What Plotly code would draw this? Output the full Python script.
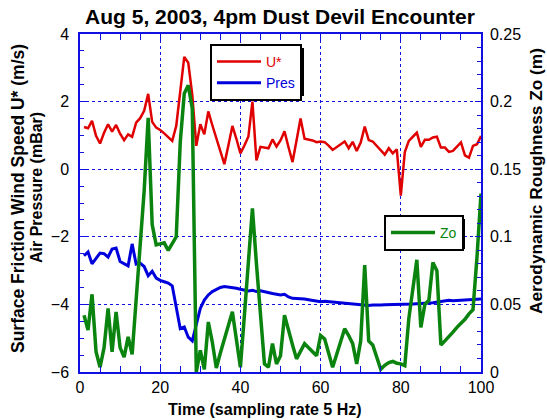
import plotly.graph_objects as go

time = list(range(1, 101))

ustar = [1.25, 1.21, 1.43, 0.99, 0.76, 1.08, 1.33, 1.11, 1.31, 1.05,
         0.86, 1.03, 0.96, 1.38, 1.51, 1.73, 2.23, 1.40, 1.23, 1.16,
         1.06, 0.94, 0.84, 1.28, 2.30, 3.32, 3.15, 2.20, 0.69, 1.33,
         1.03, 1.71, 1.30, 0.90, 0.50, 0.15, 0.70, 1.28, 0.90, 0.47,
         0.70, 0.97, 2.00, 0.26, 0.66, 0.64, 0.62, 0.88, 0.67, 0.85,
         1.12, 0.65, 0.21, 0.85, 1.50, 0.90, 0.88, 0.85, 0.80, 0.82,
         0.80, 0.70, 0.57, 0.65, 0.75, 0.82, 0.62, 0.81, 0.54, 0.79,
         1.26, 0.86, 0.82, 0.70, 0.56, 0.43, 0.62, 0.47, 0.59, -0.78,
         0.51, 0.84, 0.96, 1.08, 0.66, 0.87, 0.87, 0.94, 0.96, 0.64,
         0.64, 0.51, 0.54, 0.65, 0.79, 0.41, 0.34, 0.69, 0.74, 0.98]

pres = [-2.56, -2.45, -2.80, -2.63, -2.48, -2.50, -2.60, -2.36, -2.33, -2.73,
        -2.80, -2.86, -2.21, -2.81, -2.78, -2.88, -3.15, -3.02, -3.22, -3.29,
        -3.33, -3.37, -3.45, -4.05, -4.72, -4.67, -4.97, -5.08, -4.57, -4.12,
        -3.87, -3.72, -3.62, -3.55, -3.50, -3.47, -3.48, -3.50, -3.52, -3.55,
        -3.58, -3.60, -3.58, -3.62, -3.60, -3.63, -3.67, -3.68, -3.70, -3.72,
        -3.70, -3.78, -3.82, -3.82, -3.82, -3.84, -3.86, -3.88, -3.90, -3.92,
        -3.91, -3.92, -3.93, -3.95, -3.96, -3.97, -3.98, -3.99, -4.00, -4.02,
        -4.02, -4.03, -4.02, -4.03, -4.02, -4.01, -4.01, -4.01, -4.00, -4.01,
        -4.00, -4.00, -3.99, -3.98, -3.98, -3.97, -3.96, -3.95, -3.93, -3.90,
        -3.90, -3.88, -3.89, -3.88, -3.87, -3.86, -3.86, -3.85, -3.84, -3.84]

zo = [0.042, 0.031, 0.0575, 0.015, 0.0035, 0.018, 0.047, 0.015, 0.0445, 0.018,
      0.011, 0.026, 0.013, 0.056, 0.095, 0.134, 0.188, 0.109, 0.094, 0.095,
      0.0955, 0.090, 0.0955, 0.100, 0.170, 0.206, 0.212, 0.195, 0.000, 0.016,
      0.002, 0.037, 0.022, 0.003, 0.014, 0.024, 0.034, 0.0445, 0.024, 0.0035,
      0.042, 0.081, 0.121, 0.080, 0.040, 0.006, 0.0035, 0.021, 0.006, 0.012,
      0.042, 0.030, 0.020, 0.0097, 0.015, 0.021, 0.018, 0.015, 0.012, 0.027,
      0.0245, 0.014, 0.0035, 0.013, 0.022, 0.032, 0.027, 0.021, 0.006, 0.023,
      0.079, 0.023, 0.020, 0.011, 0.002, 0.005, 0.007, 0.0078, 0.0065, 0.006,
      0.0047, 0.0395, 0.060, 0.083, 0.033, 0.050, 0.053, 0.081, 0.075, 0.020,
      0.023, 0.026, 0.0295, 0.033, 0.036, 0.039, 0.043, 0.046, 0.085, 0.132]

x_ticks = [0, 20, 40, 60, 80, 100]
y_ticks = [-6, -4, -2, 0, 2, 4]
y2_ticks = [0, 0.05, 0.1, 0.15, 0.2, 0.25]
y2_labels = ["0", "0.05", "0.1", "0.15", "0.2", "0.25"]

RED = "#e00000"
BLUE = "#0000dd"
GREEN = "#0a840f"
AX = "#1010e0"
FONT = "Liberation Sans, Arial, sans-serif"

fig = go.Figure()
fig.add_trace(go.Scatter(x=time, y=ustar, mode="lines", name=f"<span style='color:{RED}'>U*</span>",
                         line=dict(color=RED, width=2.5), legend="legend"))
fig.add_trace(go.Scatter(x=time, y=pres, mode="lines", name=f"<span style='color:{BLUE}'>Pres</span>",
                         line=dict(color=BLUE, width=3), legend="legend"))
fig.add_trace(go.Scatter(x=time, y=zo, mode="lines", name=f"<span style='color:{GREEN}'>Zo</span>",
                         line=dict(color=GREEN, width=3.5), yaxis="y2", legend="legend2"))

L, R, T, B = 80, 481, 34, 372
W, H = 547, 420

def px(xp):
    return (xp - L) / (R - L)

def py(yp):
    return (B - yp) / (B - T)

fig.update_layout(
    width=W, height=H,
    margin=dict(l=L, r=W - R, t=T, b=H - B, pad=0),
    paper_bgcolor="white", plot_bgcolor="white",
    font=dict(family=FONT, size=16, color="black"),
    title=dict(text="<b>Aug 5, 2003, 4pm Dust Devil Encounter</b>", x=px(280), xanchor="center",
               xref="paper", y=1 - 17 / H, yanchor="middle", font=dict(size=21, family=FONT)),
    xaxis=dict(range=[0, 100], tickvals=x_ticks, showline=True, linecolor=AX, linewidth=1.5,
               mirror="allticks", ticks="inside", ticklen=6, tickcolor=AX, tickwidth=1,
               showgrid=True, gridcolor=AX, griddash="dot", gridwidth=1, zeroline=False,
               minor=dict(dtick=5, ticks="inside", ticklen=4, tickcolor=AX, showgrid=False),
               tickfont=dict(size=16), ticklabelstandoff=0),
    yaxis=dict(range=[-6, 4], tickvals=y_ticks, showline=True, linecolor=AX, linewidth=1.5,
               ticks="inside", ticklen=6, tickcolor=AX, tickwidth=1,
               showgrid=True, gridcolor=AX, griddash="dot", gridwidth=1, zeroline=False,
               minor=dict(dtick=0.5, ticks="inside", ticklen=4, tickcolor=AX, showgrid=False),
               tickfont=dict(size=16), ticklabelstandoff=6),
    yaxis2=dict(range=[0, 0.25], tickvals=y2_ticks, ticktext=y2_labels, overlaying="y", side="right",
                showline=True, linecolor=AX, linewidth=1.5, ticks="inside", ticklen=6, tickcolor=AX,
                showgrid=False, zeroline=False,
                minor=dict(dtick=0.01, ticks="inside", ticklen=4, tickcolor=AX, showgrid=False),
                tickfont=dict(size=16), ticklabelstandoff=4),
    legend=dict(x=px(210), y=py(44), xanchor="left", yanchor="top", bgcolor="white",
                bordercolor="black", borderwidth=2, font=dict(size=14), itemwidth=44,
                tracegroupgap=0),
    legend2=dict(x=px(384), y=py(215), xanchor="left", yanchor="top", bgcolor="white",
                 bordercolor="black", borderwidth=2, font=dict(size=14), itemwidth=44),
    showlegend=True,
)

# legend drop shadows
fig.add_shape(type="rect", xref="paper", yref="paper", x0=px(214), x1=px(304), y0=py(48), y1=py(96),
              fillcolor="black", line=dict(width=0), layer="above")
fig.add_shape(type="rect", xref="paper", yref="paper", x0=px(388), x1=px(465), y0=py(219), y1=py(249),
              fillcolor="black", line=dict(width=0), layer="above")

ann = dict(xref="paper", yref="paper", showarrow=False, xanchor="center", yanchor="middle")
fig.add_annotation(text="<b>Surface Friction Wind Speed U* (m/s)</b>", x=px(18), y=py(199),
                   textangle=-90, font=dict(size=17.5), **ann)
fig.add_annotation(text="<b>Air Pressure (mBar)</b>", x=px(36), y=py(188),
                   textangle=-90, font=dict(size=16), **ann)
fig.add_annotation(text="<b>Aerodynamic Roughness Zo (m)</b>", x=px(536), y=py(181),
                   textangle=-90, font=dict(size=17.3), **ann)
fig.add_annotation(text="<b>Time (sampling rate 5 Hz)</b>", x=px(265), y=py(410),
                   font=dict(size=16), **ann)

fig.write_html("out.html", config={"displayModeBar": False},
               post_script="document.body.style.margin='0px';")
